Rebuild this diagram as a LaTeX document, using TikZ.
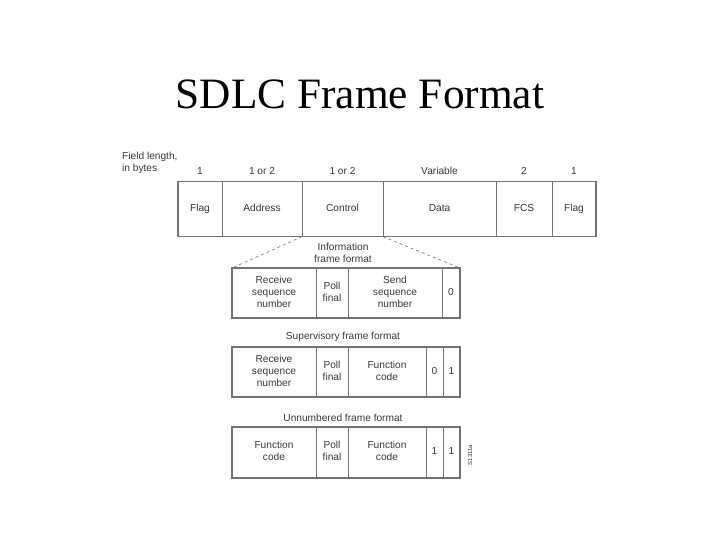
\documentclass[tikz,border=0pt]{standalone}
\usepackage{fontspec}
\setmainfont{Liberation Serif}
\newfontfamily\lsans{Liberation Sans}
\definecolor{boxline}{gray}{0.45}
\definecolor{txt}{gray}{0.22}
\tikzset{
  cell/.style={draw=boxline, line width=0.8bp, inner sep=0pt, outer sep=0pt, align=center,
    font=\lsans\fontsize{10.2}{12}\selectfont, text=txt},
  lbl/.style={inner sep=0pt, align=center, font=\lsans\fontsize{10.2}{12}\selectfont, text=txt},
  zoomline/.style={draw=boxline, dashed, line width=0.6bp},
}
\newcommand{\cellat}[7]{% name, x1, x2, y1, y2, text
  \node[cell, minimum width={(#3-#2)*1bp}, minimum height={(#5-#4)*1bp}] (#1) at ({(#2+#3)/2},{(#4+#5)/2}) {\strut #6\strut};}
\begin{document}
\begin{tikzpicture}[x=1bp,y=-1bp]
\useasboundingbox (0,0) rectangle (720,540);
% title
\node[inner sep=0pt, anchor=base, font=\fontsize{43.5}{50}\selectfont] (title) at (360,109) {SDLC Frame Format};

% header labels
\node[lbl, anchor=north west, align=left] (fl) at (122,152) {Field length,\\in bytes};
\node[lbl, anchor=base] (n1) at (200,175) {1};
\node[lbl, anchor=base] (n2) at (262,175) {1 or 2};
\node[lbl, anchor=base] (n3) at (342.5,175) {1 or 2};
\node[lbl, anchor=base] (n4) at (439.5,175) {Variable};
\node[lbl, anchor=base] (n5) at (524,175) {2};
\node[lbl, anchor=base] (n6) at (574,175) {1};

% top frame
\cellat{flag1}{178}{222}{181.7}{236.7}{Flag}{}
\cellat{addr}{222}{302}{181.7}{236.7}{Address}{}
\cellat{ctrl}{302}{383}{181.7}{236.7}{Control}{}
\cellat{data}{383}{496}{181.7}{236.7}{Data}{}
\cellat{fcs}{496}{552}{181.7}{236.7}{FCS}{}
\cellat{flag2}{552}{596}{181.7}{236.7}{Flag}{}
\draw[boxline, line width=1.3bp] (flag1.north west) rectangle (flag2.south east);

% information frame
\node[lbl] (infolbl) at (343,253) {Information\\frame format};
\cellat{ir}{232}{316}{268}{318}{Receive\\sequence\\number}{}
\cellat{ip}{316}{348}{268}{318}{Poll\\final}{}
\cellat{is}{348}{442}{268}{318}{Send\\sequence\\number}{}
\cellat{iz}{442}{460}{268}{318}{0}{}
\draw[boxline, line width=1.1bp] (ir.north west) rectangle (iz.south east);
\draw[zoomline] (ctrl.south west) -- (ir.north west);
\draw[zoomline] (ctrl.south east) -- (iz.north east);

% supervisory frame
\node[lbl] (suplbl) at (343,337) {Supervisory frame format};
\cellat{sr}{232}{316}{347}{397}{Receive\\sequence\\number}{}
\cellat{sp}{316}{348}{347}{397}{Poll\\final}{}
\cellat{sf}{348}{426}{347}{397}{Function\\code}{}
\cellat{sz}{426}{443}{347}{397}{0}{}
\cellat{so}{443}{460}{347}{397}{1}{}
\draw[boxline, line width=1.1bp] (sr.north west) rectangle (so.south east);

% unnumbered frame
\node[lbl] (unlbl) at (343,418) {Unnumbered frame format};
\cellat{uf}{232}{316}{427}{478}{Function\\code}{}
\cellat{up}{316}{348}{427}{478}{Poll\\final}{}
\cellat{ug}{348}{426}{427}{478}{Function\\code}{}
\cellat{ua}{426}{443}{427}{478}{1}{}
\cellat{ub}{443}{460}{427}{478}{1}{}
\draw[boxline, line width=1.1bp] (uf.north west) rectangle (ub.south east);

\node[lbl, rotate=90, font=\lsans\fontsize{6}{7}\selectfont] (code) at (470,455) {S1311a};
\end{tikzpicture}
\end{document}
